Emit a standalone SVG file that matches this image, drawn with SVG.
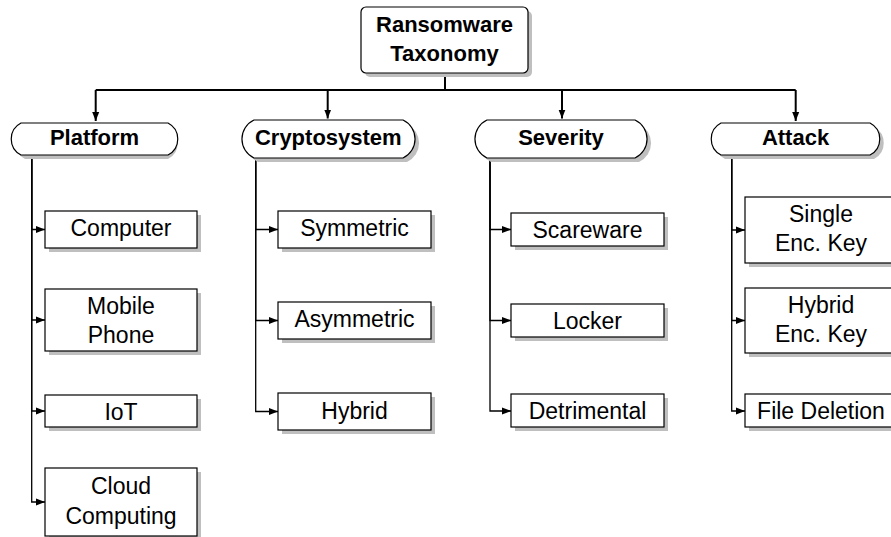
<svg xmlns="http://www.w3.org/2000/svg" width="891" height="537" viewBox="0 0 891 537">
<defs>
<marker id="ah" markerUnits="userSpaceOnUse" markerWidth="10" markerHeight="8" refX="9" refY="4" orient="auto">
<path d="M0,0.5 L9,4 L0,7.5 Z" fill="#000"/>
</marker>
</defs>
<style>
.box{fill:#fff;stroke:#000;stroke-width:1.2}
.sh{fill:#bfbfbf;stroke:none}
.t{font-family:"Liberation Sans",Arial,sans-serif;font-size:23px;fill:#000;text-anchor:middle}
.b{font-family:"Liberation Sans",Arial,sans-serif;font-size:22px;font-weight:bold;fill:#000;text-anchor:middle}
.top{fill:none;stroke:#000;stroke-width:2}
.c{fill:none;stroke:#000;stroke-width:1.3}
</style>
<rect width="891" height="537" fill="#fff"/>

<g id="connectors">
<path class="top" d="M445,73 V90"/>
<path class="top" d="M95.7,90 H795.7"/>
<path class="top" d="M95.7,90 V121" marker-end="url(#ah)"/>
<path class="top" d="M327.7,90 V118.5" marker-end="url(#ah)"/>
<path class="top" d="M562,90 V118.5" marker-end="url(#ah)"/>
<path class="top" d="M795.7,90 V121" marker-end="url(#ah)"/>
<path class="c" d="M31.7,155 V229.5 H45" marker-end="url(#ah)"/>
<path class="c" d="M31.7,155 V320 H45" marker-end="url(#ah)"/>
<path class="c" d="M31.7,155 V411 H45" marker-end="url(#ah)"/>
<path class="c" d="M31.7,155 V502 H45" marker-end="url(#ah)"/>
<path class="c" d="M255.7,158 V229.5 H278" marker-end="url(#ah)"/>
<path class="c" d="M255.7,158 V320.5 H278" marker-end="url(#ah)"/>
<path class="c" d="M255.7,158 V411.5 H278" marker-end="url(#ah)"/>
<path class="c" d="M490,158 V229.5 H511" marker-end="url(#ah)"/>
<path class="c" d="M490,158 V320.5 H511" marker-end="url(#ah)"/>
<path class="c" d="M490,158 V411 H511" marker-end="url(#ah)"/>
<path class="c" d="M731.7,155 V230 H745" marker-end="url(#ah)"/>
<path class="c" d="M731.7,155 V320.5 H745" marker-end="url(#ah)"/>
<path class="c" d="M731.7,155 V411 H745" marker-end="url(#ah)"/>
</g>

<g id="root">
<rect class="sh" x="365" y="11" width="167" height="66" rx="5"/>
<rect class="box" x="361" y="7" width="167" height="66" rx="5"/>
<text class="b" x="444.5" y="32">Ransomware</text>
<text class="b" x="444.5" y="61">Taxonomy</text>
</g>

<g id="platform">
<path class="sh" d="M25,127 H168 A18,18 0 0 1 168,159 H25 A18,18 0 0 1 25,127 Z"/>
<path class="box" d="M21,123 H168 A18,18 0 0 1 168,155 H21 A18,18 0 0 1 21,123 Z"/>
<text class="b" x="94.5" y="145">Platform</text>
</g>
<g id="cryptosystem">
<path class="sh" d="M258,124 H407 A21,21 0 0 1 407,162 H258 A21,21 0 0 1 258,124 Z"/>
<path class="box" d="M254,120 H403 A21,21 0 0 1 403,158 H254 A21,21 0 0 1 254,120 Z"/>
<text class="b" x="328.3" y="145">Cryptosystem</text>
</g>
<g id="severity">
<path class="sh" d="M491,124 H639 A21,21 0 0 1 639,162 H491 A21,21 0 0 1 491,124 Z"/>
<path class="box" d="M487,120 H635 A21,21 0 0 1 635,158 H487 A21,21 0 0 1 487,120 Z"/>
<text class="b" x="561" y="145">Severity</text>
</g>
<g id="attack">
<path class="sh" d="M725,127 H874 A18,18 0 0 1 874,159 H725 A18,18 0 0 1 725,127 Z"/>
<path class="box" d="M721,123 H870 A18,18 0 0 1 870,155 H721 A18,18 0 0 1 721,123 Z"/>
<text class="b" x="795.5" y="145">Attack</text>
</g>

<g id="computer">
<rect class="sh" x="49" y="215" width="152" height="37"/>
<rect class="box" x="45" y="211" width="152" height="37"/>
<text class="t" x="121" y="236">Computer</text>
</g>
<g id="mobile">
<rect class="sh" x="49" y="293" width="152" height="62"/>
<rect class="box" x="45" y="289" width="152" height="62"/>
<text class="t" x="121" y="314">Mobile</text>
<text class="t" x="121" y="343">Phone</text>
</g>
<g id="iot">
<rect class="sh" x="49" y="399" width="152" height="32"/>
<rect class="box" x="45" y="395" width="152" height="32"/>
<text class="t" x="121" y="420">IoT</text>
</g>
<g id="cloud">
<rect class="sh" x="49" y="472" width="152" height="68"/>
<rect class="box" x="45" y="468" width="152" height="68"/>
<text class="t" x="121" y="494">Cloud</text>
<text class="t" x="121" y="524">Computing</text>
</g>

<g id="symmetric">
<rect class="sh" x="282" y="215" width="153" height="37"/>
<rect class="box" x="278" y="211" width="153" height="37"/>
<text class="t" x="354.5" y="236">Symmetric</text>
</g>
<g id="asymmetric">
<rect class="sh" x="282" y="306" width="153" height="37"/>
<rect class="box" x="278" y="302" width="153" height="37"/>
<text class="t" x="354.5" y="327">Asymmetric</text>
</g>
<g id="hybrid">
<rect class="sh" x="282" y="397" width="153" height="37"/>
<rect class="box" x="278" y="393" width="153" height="37"/>
<text class="t" x="354.5" y="419">Hybrid</text>
</g>

<g id="scareware">
<rect class="sh" x="515" y="217" width="153" height="33"/>
<rect class="box" x="511" y="213" width="153" height="33"/>
<text class="t" x="587.5" y="238">Scareware</text>
</g>
<g id="locker">
<rect class="sh" x="515" y="308" width="153" height="33"/>
<rect class="box" x="511" y="304" width="153" height="33"/>
<text class="t" x="587.5" y="329">Locker</text>
</g>
<g id="detrimental">
<rect class="sh" x="515" y="398" width="153" height="33"/>
<rect class="box" x="511" y="394" width="153" height="33"/>
<text class="t" x="587.5" y="419">Detrimental</text>
</g>

<g id="single">
<rect class="sh" x="749" y="201" width="153" height="66"/>
<rect class="box" x="745" y="197" width="153" height="66"/>
<text class="t" x="821" y="222">Single</text>
<text class="t" x="821" y="251">Enc. Key</text>
</g>
<g id="hybridkey">
<rect class="sh" x="749" y="292" width="153" height="65"/>
<rect class="box" x="745" y="288" width="153" height="65"/>
<text class="t" x="821" y="313">Hybrid</text>
<text class="t" x="821" y="342">Enc. Key</text>
</g>
<g id="filedeletion">
<rect class="sh" x="749" y="398" width="153" height="33"/>
<rect class="box" x="745" y="394" width="153" height="33"/>
<text class="t" x="821" y="419">File Deletion</text>
</g>
</svg>
